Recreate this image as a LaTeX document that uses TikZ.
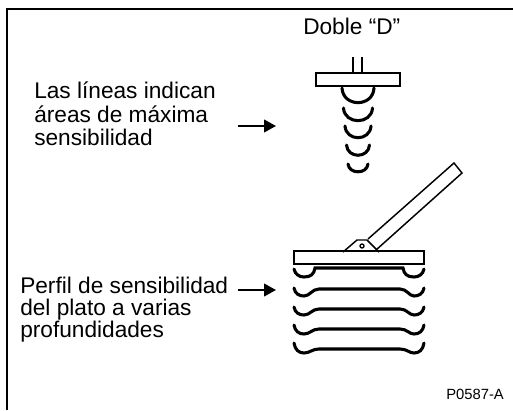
\documentclass[tikz,border=0pt]{standalone}
\usepackage{fontspec}
\setmainfont{Liberation Sans}
\usetikzlibrary{arrows.meta}
\tikzset{
  lab/.style={anchor=base west,inner sep=0pt,font=\fontsize{17}{17}\selectfont},
  thin outline/.style={line width=1.1pt,black},
  beam/.style={line width=2.3pt,black,line cap=round},
  pointer/.style={line width=1.5pt,-{Triangle[length=9pt,width=9.5pt]}}
}
\begin{document}
\begin{tikzpicture}[x=0.75pt,y=-0.75pt]
\useasboundingbox (0,0) rectangle (513,410);
\draw[line width=1.5pt] (7,410) -- (7,9) -- (513,9);
% labels
\node[lab] (t1) at (303,35) {Doble “D”};
\node[lab] (t2) at (34,98) {Las líneas indican};
\node[lab] (t3) at (34,122) {áreas de máxima};
\node[lab] (t4) at (34,145) {sensibilidad};
\node[lab] (t5) at (20,293) {Perfil de sensibilidad};
\node[lab] (t6) at (20,315) {del plato a varias};
\node[lab] (t7) at (20,337) {profundidades};
\node[anchor=base west,inner sep=0pt,font=\fontsize{11.1}{11}\selectfont] (t8) at (446,399) {P0587-A};
% arrows
\coordinate (a1s) at (238,126); \coordinate (a1e) at (276,126);
\draw[pointer] (a1s) -- (a1e);
\coordinate (a2s) at (238,290); \coordinate (a2e) at (276,290);
\draw[pointer] (a2s) -- (a2e);
% double D head
\draw[thin outline] (316,73) rectangle (400,86);
\draw[thin outline] (353,57) -- (353,73) (362,57) -- (362,73);
\foreach \top/\hw/\dep in {88/16/15,108/14.5/13,126/13/12,145/11.5/10.5,164/10/8}{
  \draw[beam] (358-\hw,\top) .. controls (358-\hw+1,\top+\dep*1.3) and (358+\hw-1,\top+\dep*1.3) .. (358+\hw,\top);
}
% handle
\draw[thin outline] (368,239) -- (454,163) -- (462,173) -- (376,250);
% hinge
\draw[thin outline] (343,252) -- (357,240) -- (367,240) -- (379,252);
\draw[line width=1pt] (362,246) circle (2);
% plate
\draw[thin outline] (294,251) rectangle (424,264);
% profiles
\draw[beam] (294,269) .. controls (295,274) and (299,277) .. (304,277)
  .. controls (311,277) and (314,274) .. (315,268) -- (403,268)
  .. controls (404,274) and (407,277) .. (414,277)
  .. controls (419,277) and (423,274) .. (424,269);
\foreach \y/\b/\f in {288/8/1,307/8/2,325/9/4,343/10/6}{
  \draw[beam] (294,\y) .. controls (295,\y+0.7*\b) and (299,\y+\b) .. (304,\y+\b)
    .. controls (310,\y+\b) and (312,\y+\f) .. (319,\y+\f) -- (400,\y+\f)
    .. controls (407,\y+\f) and (409,\y+\b) .. (414,\y+\b)
    .. controls (419,\y+\b) and (423,\y+0.7*\b) .. (424,\y);
}
\end{tikzpicture}
\end{document}
